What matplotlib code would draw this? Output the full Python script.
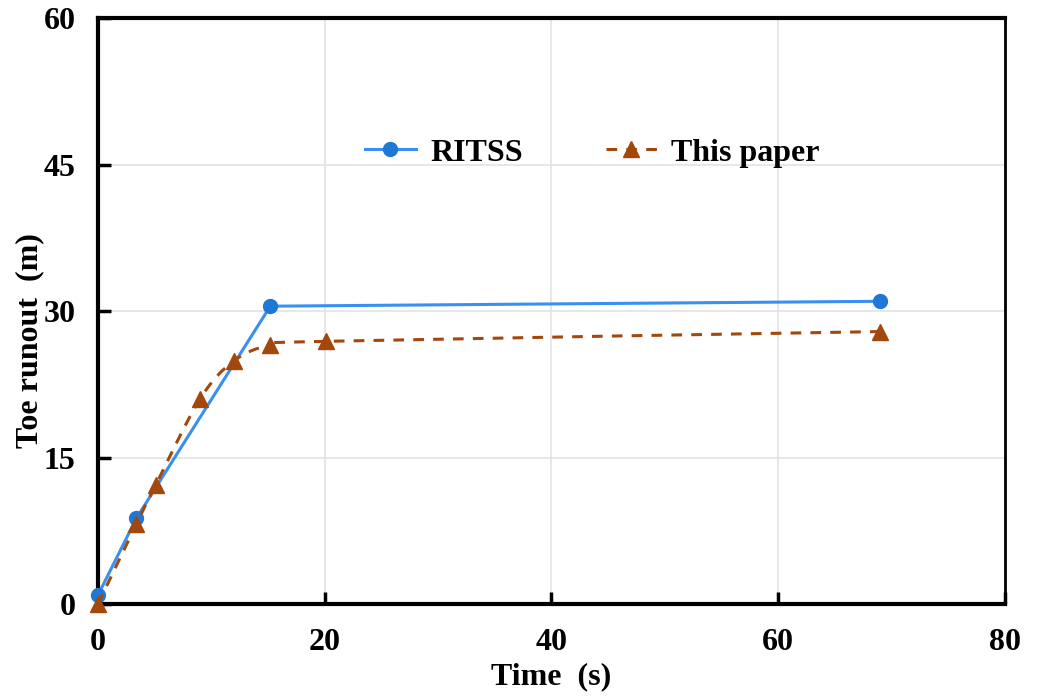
import numpy as np
import matplotlib
matplotlib.use("Agg")
import matplotlib.pyplot as plt
from matplotlib.path import Path
from matplotlib.patches import PathPatch
from matplotlib.lines import Line2D

plt.rcParams['font.family'] = ['Liberation Serif', 'DejaVu Serif']
plt.rcParams['font.weight'] = 'bold'

# toe runout over time
ritss_t = [0, 3.4, 15.2, 69]
ritss_d = [0.9, 8.8, 30.5, 31.0]

paper_t = [0, 3.4, 5.1, 9.0, 12.0, 15.2, 20.1, 69]
paper_d = [0, 8.2, 12.2, 21.0, 24.9, 26.5, 26.9, 27.9]

xticks = [0, 20, 40, 60, 80]
yticks = [0, 15, 30, 45, 60]

blue_line = '#3890F2'
blue_mark = '#1F78D6'
brown = '#A3480C'


def smooth_path(xs, ys):
    # Catmull-Rom style cubic bezier through every point
    pts = np.column_stack([xs, ys]).astype(float)
    verts = [pts[0]]
    codes = [Path.MOVETO]
    n = len(pts)
    for i in range(n - 1):
        p0 = pts[i - 1] if i > 0 else pts[i]
        p1 = pts[i]
        p2 = pts[i + 1]
        p3 = pts[i + 2] if i + 2 < n else pts[i + 1]
        c1 = p1 + (p2 - p0) / 6.0
        c2 = p2 - (p3 - p1) / 6.0
        verts += [c1, c2, p2]
        codes += [Path.CURVE4] * 3
    return Path(verts, codes)


fig = plt.figure(figsize=(10.42, 6.98), dpi=100)
ax = fig.add_axes([0.094, 0.1347, 0.8705, 0.8393])

ax.set_xlim(0, 80)
ax.set_ylim(0, 60)
ax.set_xticks(xticks)
ax.set_yticks(yticks)
ax.grid(True, color='#e3e3e3', linewidth=1.2)
ax.set_axisbelow(True)

ax.plot(ritss_t, ritss_d, color=blue_line, linewidth=2.2, zorder=3)
ax.plot(ritss_t, ritss_d, linestyle='none', marker='o', markersize=10,
        color=blue_mark, zorder=4, clip_on=False)

curve = PathPatch(smooth_path(paper_t, paper_d), fill=False, edgecolor=brown,
                  linewidth=2.2, linestyle=(0, (3.5, 3)), zorder=5)
ax.add_patch(curve)
ax.plot(paper_t, paper_d, linestyle='none', marker='^', markersize=11,
        color=brown, zorder=6, clip_on=False)

for side in ['left', 'bottom', 'top']:
    ax.spines[side].set_linewidth(3)
ax.spines['right'].set_linewidth(2)
for s in ax.spines.values():
    s.set_color('black')

ax.tick_params(direction='in', length=9, width=2.5, labelsize=23)
ax.tick_params(axis='x', pad=17)
ax.tick_params(axis='y', pad=16)
for lab in ax.get_xticklabels() + ax.get_yticklabels():
    lab.set_fontweight('bold')

ax.set_xlabel('Time  (s)', fontsize=23, fontweight='bold', labelpad=4)
ax.set_ylabel('Toe runout  (m)', fontsize=23, fontweight='bold')
ax.yaxis.set_label_coords(-0.059, 0.45)

handles = [
    Line2D([], [], color=blue_line, linewidth=2.2, marker='o', markersize=10,
           markerfacecolor=blue_mark, markeredgecolor=blue_mark),
    Line2D([], [], color=brown, linewidth=2.2, linestyle=(0, (3.5, 3)),
           marker='^', markersize=11),
]
ax.legend(handles, ['RITSS', 'This paper'], ncol=2, frameon=False,
          loc='center', bbox_to_anchor=(0.545, 0.77), fontsize=23,
          handlelength=1.6, columnspacing=2.6, handletextpad=0.45)

fig.savefig('out.png', dpi=100)
